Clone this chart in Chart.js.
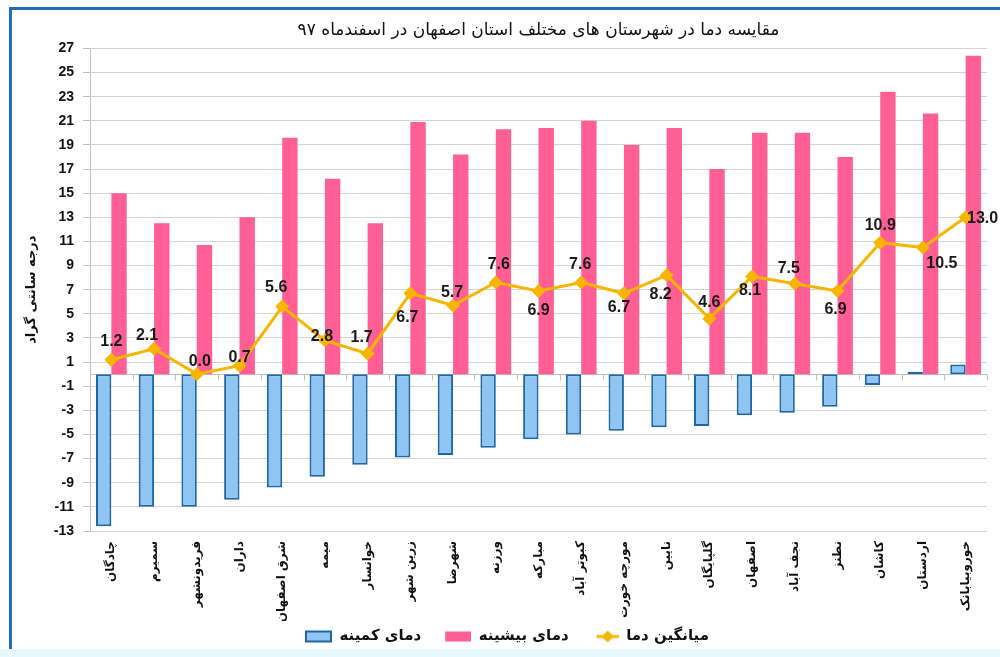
<!DOCTYPE html>
<html lang="fa">
<head>
<meta charset="utf-8">
<title>مقایسه دما</title>
<script src="https://cdn.jsdelivr.net/npm/chart.js@4/dist/chart.umd.min.js"></script>
<style>
  html, body { margin: 0; padding: 0; background: #fff; }
  canvas { display: block; }
</style>
</head>
<body>
<canvas id="tempChart" width="1000" height="657"></canvas>
<script>
// data
const cities = ['چادگان', 'سمیرم', 'فریدونشهر', 'داران', 'شرق اصفهان', 'میمه', 'خوانسار', 'زرین شهر', 'شهرضا', 'ورزنه', 'مبارکه',
    'کبوتر آباد', 'مورچه خورت', 'نایین', 'گلپایگان', 'اصفهان', 'نجف آباد', 'نطنز', 'کاشان', 'اردستان', 'خوروبیابانک'];
const minTemp = [-12.6, -11.0, -11.0, -10.4, -9.4, -8.5, -7.5, -6.9, -6.7, -6.1, -5.4, -5.0, -4.7, -4.4, -4.3, -3.4, -3.2, -2.7, -0.9, 0.2, 0.8];
const maxTemp = [15.0, 12.5, 10.7, 13.0, 19.6, 16.2, 12.5, 20.9, 18.2, 20.3, 20.4, 21.0, 19.0, 20.4, 17.0, 20.0, 20.0, 18.0, 23.4, 21.6, 26.4];
const avgTemp = [1.2, 2.1, 0.0, 0.7, 5.6, 2.8, 1.7, 6.7, 5.7, 7.6, 6.9, 7.6, 6.7, 8.2, 4.6, 8.1, 7.5, 6.9, 10.9, 10.5, 13.0];
const yTicks = [-13, -11, -9, -7, -5, -3, -1, 1, 3, 5, 7, 9, 11, 13, 15, 17, 19, 21, 23, 25, 27];

// where each average label sits relative to its marker (dx, dy)
const labelShift = [[0, -18], [-7, -13], [3, -13], [0, -8], [-6, -19], [-3, -4], [-6, -16], [-3, 24], [-1, -13], [3, -18], [0, 20],
    [-1, -18], [-5, 14], [-6, 19], [0, -16], [-2, 14], [-6, -15], [-2, 19], [0, -17], [19, 16], [17, 1]];

const BLUE = '#8EC5F2', BLUE_EDGE = '#1F67A3', PINK = '#FF5F94', GOLD = '#F7B500';

// legend glyphs; blank room on the left acts as the gap between legend items
function icon(draw) {
    const c = document.createElement('canvas');
    c.width = 42;
    c.height = 14;
    draw(c.getContext('2d'));
    return c;
}
const legendIcons = [
    icon(g => {
        g.fillStyle = BLUE; g.fillRect(16, 2, 25, 10);
        g.strokeStyle = BLUE_EDGE; g.lineWidth = 2; g.strokeRect(16, 2, 25, 10);
    }),
    icon(g => { g.fillStyle = PINK; g.fillRect(16, 2, 26, 10); }),
    icon(g => {
        g.strokeStyle = GOLD; g.lineWidth = 3;
        g.beginPath(); g.moveTo(20, 7); g.lineTo(42, 7); g.stroke();
        g.fillStyle = GOLD;
        g.beginPath(); g.moveTo(25, 7); g.lineTo(31, 1); g.lineTo(37, 7); g.lineTo(31, 13); g.closePath(); g.fill();
    })
];

const frame = {
    id: 'frame',
    beforeDraw(chart) {
        const ctx = chart.ctx;
        ctx.save();
        ctx.fillStyle = '#fff';
        ctx.fillRect(0, 0, chart.width, chart.height);
        ctx.fillStyle = '#E4F8FD';
        ctx.fillRect(0, 649, chart.width, chart.height - 649);
        ctx.fillStyle = '#1F6EBD';
        ctx.fillRect(9, 7, chart.width - 9, 3);
        ctx.fillRect(9, 7, 3, 642);
        ctx.restore();
    }
};

// horizontal axis crosses at zero, with small ticks between categories
const zeroAxis = {
    id: 'zeroAxis',
    beforeDatasetsDraw(chart) {
        const {ctx, chartArea, scales: {x, y}} = chart;
        const y0 = Math.round(y.getPixelForValue(0)) + 0.5;
        ctx.save();
        ctx.strokeStyle = '#BFBFBF';
        ctx.lineWidth = 1;
        ctx.beginPath();
        ctx.moveTo(chartArea.left, y0);
        ctx.lineTo(chartArea.right, y0);
        for (let i = 0; i <= cities.length; i++) {
            const px = Math.round(x.getPixelForValue(i - 0.5)) + 0.5;
            ctx.moveTo(px, y0);
            ctx.lineTo(px, y0 + 6);
        }
        ctx.stroke();
        ctx.restore();
    }
};

const avgLabels = {
    id: 'avgLabels',
    afterDatasetsDraw(chart) {
        const meta = chart.getDatasetMeta(2);
        const ctx = chart.ctx;
        ctx.save();
        ctx.font = 'bold 16px "Liberation Sans", Arial, sans-serif';
        ctx.fillStyle = '#1a1a1a';
        ctx.textAlign = 'center';
        ctx.textBaseline = 'middle';
        meta.data.forEach((pt, i) => {
            const [dx, dy] = labelShift[i];
            ctx.fillText(avgTemp[i].toFixed(1), pt.x + dx, pt.y + dy);
        });
        ctx.restore();
    }
};

const persian = '"DejaVu Sans", sans-serif';

new Chart(document.getElementById('tempChart'), {
    data: {
        labels: cities,
        datasets: [
            {
                type: 'bar', label: 'دمای کمینه', data: minTemp,
                backgroundColor: BLUE, borderColor: BLUE_EDGE, borderWidth: 2, borderSkipped: false,
                barPercentage: 1, categoryPercentage: 0.72, order: 1
            },
            {
                type: 'bar', label: 'دمای بیشینه', data: maxTemp,
                backgroundColor: PINK, borderWidth: 0,
                barPercentage: 1, categoryPercentage: 0.72, order: 1
            },
            {
                type: 'line', label: 'میانگین دما', data: avgTemp,
                borderColor: GOLD, backgroundColor: GOLD, borderWidth: 3,
                pointStyle: 'rectRot', pointRadius: 7, pointHoverRadius: 7, pointBorderWidth: 0,
                tension: 0, order: 0
            }
        ]
    },
    options: {
        responsive: false,
        animation: false,
        layout: { padding: { left: 12, right: 13, top: 9, bottom: 3 } },
        plugins: {
            title: {
                display: true,
                text: 'مقایسه دما در شهرستان های مختلف استان اصفهان در اسفندماه ۹۷',
                fullSize: false,
                color: '#111',
                font: { family: persian, size: 17, weight: 'normal' },
                padding: { top: 11, bottom: 8 }
            },
            legend: {
                position: 'bottom',
                labels: {
                    usePointStyle: true,
                    pointStyleWidth: 42,
                    padding: 8,
                    color: '#111',
                    font: { family: persian, size: 15, weight: 'bold' },
                    generateLabels(chart) {
                        const items = Chart.defaults.plugins.legend.labels.generateLabels(chart);
                        items.forEach(it => { it.pointStyle = legendIcons[it.datasetIndex]; });
                        return items;
                    },
                    sort: (a, b) => a.datasetIndex - b.datasetIndex
                }
            },
            tooltip: { enabled: false }
        },
        scales: {
            x: {
                grid: { display: false, drawTicks: false },
                border: { display: false },
                ticks: {
                    autoSkip: false, minRotation: 90, maxRotation: 90, padding: 10,
                    color: '#111', font: { family: persian, size: 12, weight: 'bold' }
                },
                afterFit(scale) { scale.height = 90; }
            },
            y: {
                min: -13,
                max: 27,
                afterBuildTicks(scale) { scale.ticks = yTicks.map(v => ({ value: v })); },
                grid: { color: '#D4D4D4', tickLength: 7, tickColor: '#BFBFBF' },
                border: { color: '#BFBFBF' },
                ticks: { color: '#111', padding: 9, font: { family: '"Liberation Sans", Arial, sans-serif', size: 14, weight: 'bold' } },
                title: {
                    display: true, text: 'درجه سانتی گراد', color: '#111',
                    font: { family: persian, size: 13, weight: 'bold' },
                    padding: { top: 12, bottom: 0 }
                },
                afterFit(scale) { scale.width = 78; }
            }
        }
    },
    plugins: [frame, zeroAxis, avgLabels]
});
</script>
</body>
</html>
